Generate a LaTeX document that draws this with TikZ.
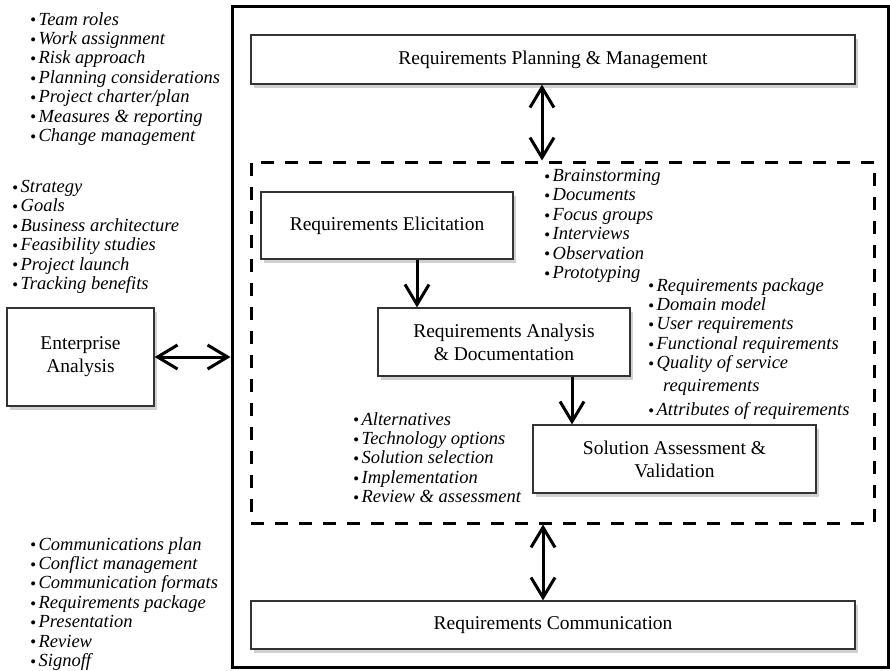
\documentclass[tikz,border=0pt]{standalone}
\usepackage{fontspec}
\setmainfont{Liberation Serif}
\usetikzlibrary{arrows.meta,shadows}
\newcommand{\bul}{\raisebox{-0.05em}{\fontsize{17}{17}\selectfont\textbullet}\hspace{2.5pt}}
\tikzset{
  blk/.style={draw=black!80, line width=1.2pt, fill=white, align=center, inner sep=0pt,
    font=\fontsize{19.5}{23}\selectfont,
    drop shadow={shadow xshift=3pt, shadow yshift=-4pt, opacity=0.3, fill=black!60}},
  lst/.style={anchor=north west, align=left, inner sep=0pt,
    font=\fontsize{18.5}{19.4}\selectfont\itshape},
  dbl/.style={line width=3pt, {Straight Barb[length=20pt,width=24pt]}-{Straight Barb[length=20pt,width=24pt]}},
  sgl/.style={line width=3pt, -{Straight Barb[length=20pt,width=24pt]}}
}
\begin{document}
\begin{tikzpicture}[x=1pt,y=-1pt]
\useasboundingbox (0,0) rectangle (890,670);
% frame and dashed core
\node[draw, line width=3pt, minimum width=656pt, minimum height=661pt, inner sep=0pt] (frame) at (560,336.5) {};
\node[draw, line width=3pt, dash pattern=on 13pt off 11pt, minimum width=623pt, minimum height=361pt, inner sep=0pt] (core) at (562.5,342.5) {};
% boxes
\node[blk, minimum width=604pt, minimum height=49pt] (plan) at (553,59.5) {Requirements Planning \& Management};
\node[blk, minimum width=252pt, minimum height=67pt] (elic) at (387,225.5) {Requirements Elicitation};
\node[blk, minimum width=252pt, minimum height=68pt] (anal) at (504,342) {Requirements Analysis\\\& Documentation};
\node[blk, minimum width=283pt, minimum height=68pt] (sol) at (674.5,459) {Solution Assessment \&\\Validation};
\node[blk, minimum width=604pt, minimum height=48pt] (comm) at (553,625) {Requirements Communication};
\node[blk, minimum width=147pt, minimum height=98pt] (ent) at (80.5,357) {Enterprise\\Analysis};
% lists
\node[lst] (planlist) at (30,12) {\bul Team roles\\\bul Work assignment\\\bul Risk approach\\\bul Planning considerations\\\bul Project charter/plan\\\bul Measures \& reporting\\\bul Change management};
\node[lst] (entlist) at (12,180) {\bul Strategy\\\bul Goals\\\bul Business architecture\\\bul Feasibility studies\\\bul Project launch\\\bul Tracking benefits};
\node[lst] (eliclist) at (544,169) {\bul Brainstorming\\\bul Documents\\\bul Focus groups\\\bul Interviews\\\bul Observation\\\bul Prototyping};
\node[lst] (anallist) at (648,278) {\bul Requirements package\\\bul Domain model\\\bul User requirements\\\bul Functional requirements\\\bul Quality of service\\[3pt]\hspace*{15pt}requirements\\[5pt]\bul Attributes of requirements};
\node[lst] (sollist) at (353,412) {\bul Alternatives\\\bul Technology options\\\bul Solution selection\\\bul Implementation\\\bul Review \& assessment};
\node[lst] (commlist) at (30,537) {\bul Communications plan\\\bul Conflict management\\\bul Communication formats\\\bul Requirements package\\\bul Presentation\\\bul Review\\\bul Signoff};
% connectors
\coordinate (pa) at ([xshift=-11pt]plan.south);
\coordinate (ea) at ([xshift=30pt]elic.south);
\coordinate (aa) at ([xshift=68pt]anal.south);
\coordinate (ca) at ([xshift=-10pt]comm.north);
\draw[dbl] (ent.east) -- (ent.east -| frame.west);
\draw[dbl] (pa) -- (pa |- core.north);
\draw[sgl] (ea) -- (ea |- anal.north);
\draw[sgl] (aa) -- (aa |- sol.north);
\draw[dbl] (ca) -- (ca |- core.south);
\end{tikzpicture}
\end{document}
